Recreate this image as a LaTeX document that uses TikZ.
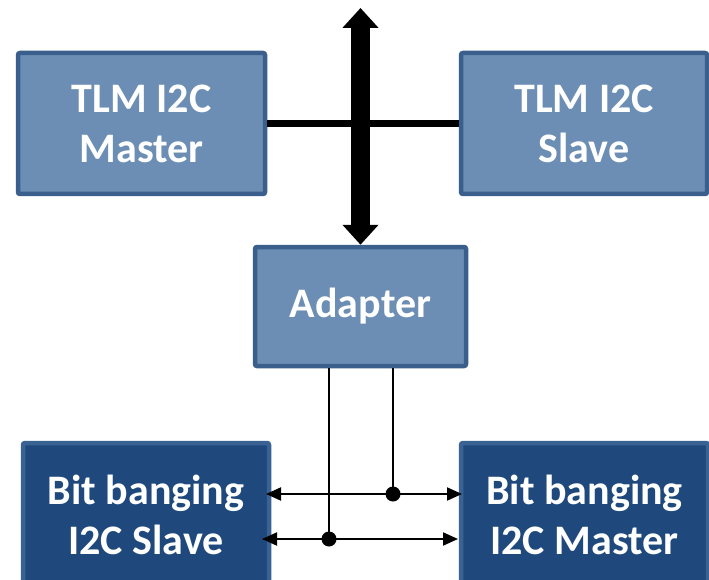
\documentclass[tikz,border=0pt]{standalone}
\usepackage{fontspec}
\setmainfont{Carlito}
\usetikzlibrary{arrows.meta}
\definecolor{lightfill}{HTML}{6C8EB5}
\definecolor{boxline}{HTML}{3A5F8D}
\definecolor{darkfill}{HTML}{1F497D}
\definecolor{darkline}{HTML}{3A6293}
\tikzset{
  blockbase/.style={rectangle, rounded corners=2pt, line width=4.5pt,
    text=white, align=center, inner sep=0pt,
    font=\fontsize{42}{50}\selectfont\bfseries},
  lightblock/.style={blockbase, draw=boxline, fill=lightfill},
  darkblock/.style={blockbase, draw=darkline, fill=darkfill},
  bus/.style={line width=19pt, {Triangle[width=35pt,length=20pt]}-{Triangle[width=35pt,length=20pt]}},
  hbar/.style={line width=7pt},
  wire/.style={line width=2pt},
  sigarrow/.style={line width=2pt, {Triangle[width=13pt,length=15pt]}-{Triangle[width=13pt,length=15pt]}},
  junction/.style={circle, fill=black, inner sep=0pt, minimum size=15pt}
}
\begin{document}
\begin{tikzpicture}[x=1pt, y=-1pt]
\useasboundingbox[fill=white] (0,0) rectangle (709,580);
\begin{scope}
\clip (0,0) rectangle (709,580);
\node[lightblock, minimum width=247pt, minimum height=141pt] (tlmm) at (141.5,123.5) {TLM I2C\\Master};
\node[lightblock, minimum width=246pt, minimum height=141pt] (tlms) at (584,123.5) {TLM I2C\\Slave};
\node[lightblock, minimum width=211pt, minimum height=119pt] (adapter) at (360.5,306.5) {Adapter};
\node[darkblock, minimum width=246pt, minimum height=143pt] (bbs) at (146,514.5) {Bit banging\\I2C Slave};
\node[darkblock, minimum width=247pt, minimum height=143pt] (bbm) at (584.5,514.5) {Bit banging\\I2C Master};

\draw[hbar] (tlmm.east) -- (tlms.west);
\coordinate (bustop) at (360.5,8);
\draw[bus] (bustop) -- (adapter.north);

\node[junction] (j1) at (393,494) {};
\node[junction] (j2) at (329,539) {};
\draw[wire] (adapter.south -| j1) -- (j1.center);
\draw[wire] (adapter.south -| j2) -- (j2.center);
\coordinate (a1l) at (266,494);
\coordinate (a1r) at (462,494);
\coordinate (a2l) at (262,539);
\coordinate (a2r) at (458,539);
\draw[sigarrow] (a1l) -- (a1r);
\draw[sigarrow] (a2l) -- (a2r);
\end{scope}
\end{tikzpicture}
\end{document}
